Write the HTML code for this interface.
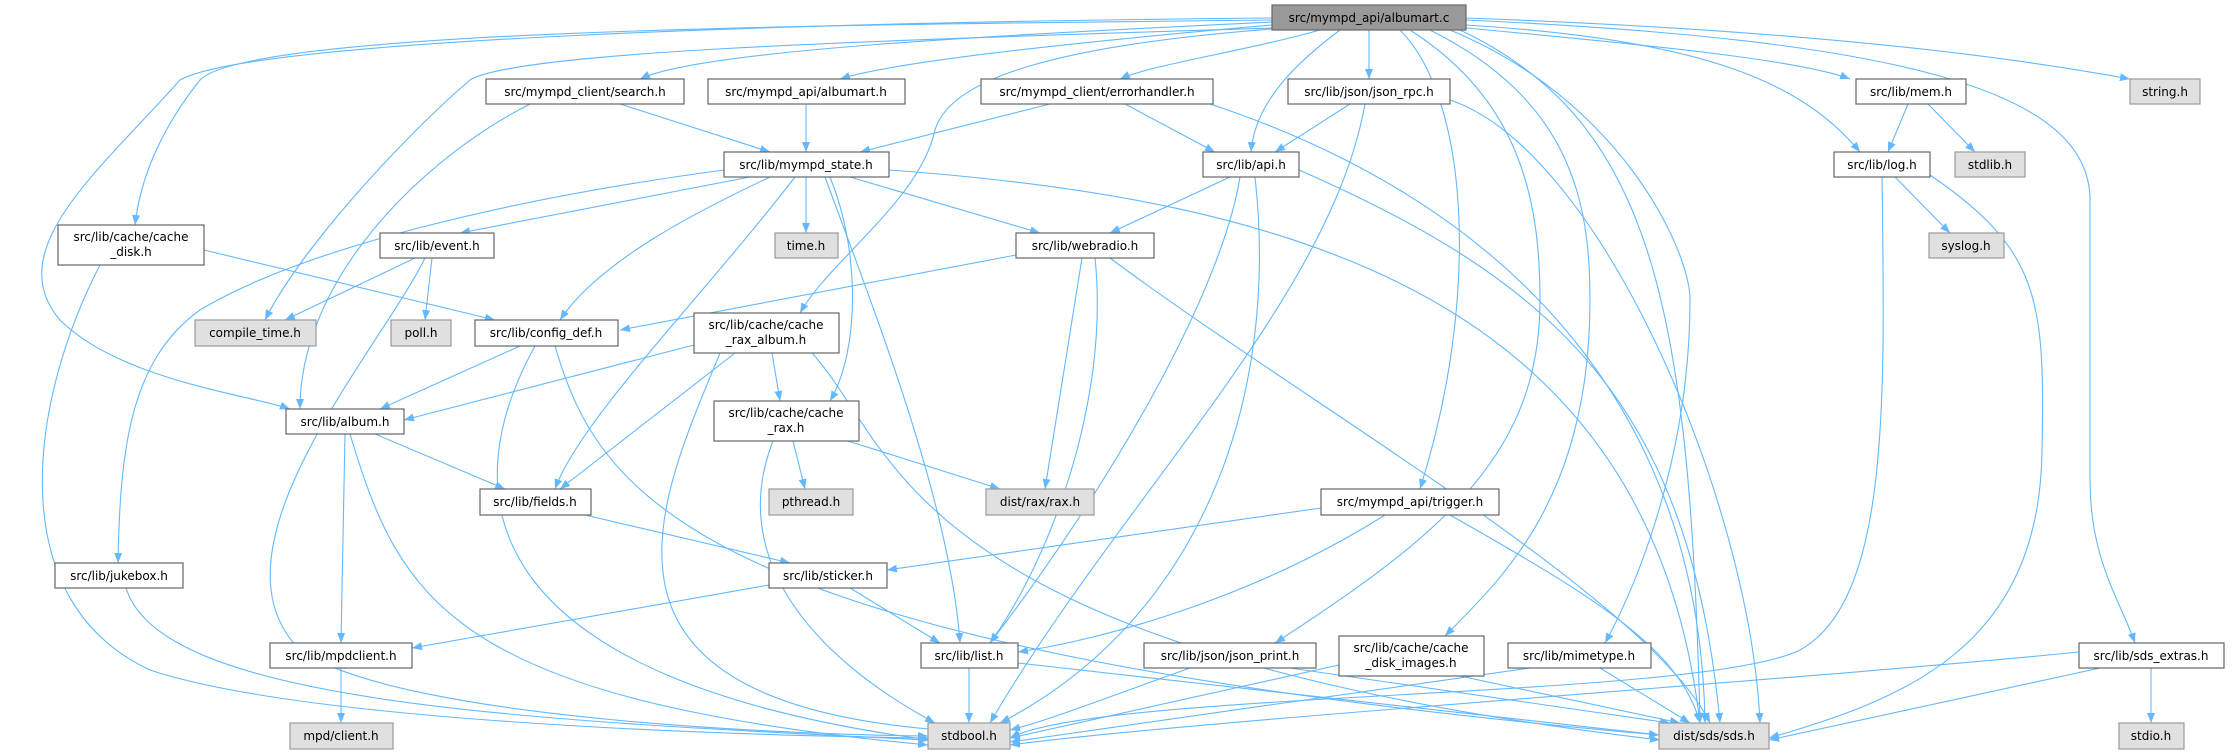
<!DOCTYPE html>
<html><head><meta charset="utf-8"><style>
html,body{margin:0;padding:0;background:#fff;}
svg{display:block}
text{font-family:"DejaVu Sans","Liberation Sans",sans-serif;font-size:12px;fill:#000;text-anchor:middle;}
.e{fill:none;stroke:#63b8ff;stroke-width:1.1;marker-end:url(#a)}
.n{fill:#fff;stroke:#666;stroke-width:1.2}
.g{fill:#e0e0e0;stroke:#999;stroke-width:1.2}
</style></head><body>
<svg width="2236" height="755" viewBox="0 0 2236 755" xmlns="http://www.w3.org/2000/svg">
<defs><marker id="a" markerUnits="userSpaceOnUse" markerWidth="10" markerHeight="8" refX="10" refY="4" orient="auto"><path d="M0,0 L10,4 L0,8 z" fill="#63b8ff"/></marker></defs>
<g>
<path class="e" d="M1272,22 C1000,35 700,50 640,79"/>
<path class="e" d="M1272,25 C1100,40 900,60 840,79"/>
<path class="e" d="M1320,30 C1250,50 1150,65 1120,79"/>
<path class="e" d="M1340,30 C1300,60 1255,100 1251,152"/>
<path class="e" d="M1369,30 L1369,79"/>
<path class="e" d="M1466,28 C1650,45 1800,60 1850,79"/>
<path class="e" d="M1466,25 C1700,40 1800,80 1860,152"/>
<path class="e" d="M1466,18 C1800,30 2000,55 2130,79"/>
<path class="e" d="M1466,20 C1900,40 2090,90 2090,200 L2090,480 C2090,560 2120,600 2135,643"/>
<path class="e" d="M1272,20 C800,25 250,30 200,80 C160,130 140,180 135,225"/>
<path class="e" d="M1272,18 C800,22 250,40 180,80 C100,170 0,250 60,320 C120,380 250,395 290,409"/>
<path class="e" d="M1272,28 C900,40 520,50 470,80 C400,140 300,250 265,320"/>
<path class="e" d="M1285,28 C1050,45 950,80 935,130 C920,200 830,260 800,313"/>
<path class="e" d="M1400,30 C1470,100 1480,300 1420,489"/>
<path class="e" d="M1410,30 C1520,100 1540,200 1540,300 C1540,450 1450,530 1275,643"/>
<path class="e" d="M1430,30 C1570,100 1590,200 1590,300 C1590,500 1500,580 1445,636"/>
<path class="e" d="M1450,30 C1620,100 1690,250 1690,300 C1690,450 1640,580 1605,643"/>
<path class="e" d="M1460,30 C1650,120 1690,300 1700,723"/>
<path class="e" d="M620,104 L770,152"/>
<path class="e" d="M530,104 C420,160 300,280 300,409"/>
<path class="e" d="M806,104 L806,152"/>
<path class="e" d="M1050,104 L860,152"/>
<path class="e" d="M1125,104 L1215,152"/>
<path class="e" d="M1210,104 C1500,200 1700,400 1705,723"/>
<path class="e" d="M1350,104 L1275,152"/>
<path class="e" d="M1365,104 C1330,300 1120,500 990,723"/>
<path class="e" d="M1450,100 C1600,150 1750,500 1760,723"/>
<path class="e" d="M1908,104 L1888,152"/>
<path class="e" d="M1928,104 L1975,152"/>
<path class="e" d="M1895,177 L1950,233"/>
<path class="e" d="M1882,177 C1885,400 1890,600 1800,650 C1700,700 1100,690 1010,738"/>
<path class="e" d="M1930,175 C2040,250 2045,300 2042,450 C2040,650 1900,700 1769,738"/>
<path class="e" d="M750,177 L460,233"/>
<path class="e" d="M806,177 L806,233"/>
<path class="e" d="M850,177 L1040,233"/>
<path class="e" d="M770,177 C700,210 600,260 560,320"/>
<path class="e" d="M830,177 C860,250 860,350 830,401"/>
<path class="e" d="M795,177 C700,300 580,420 555,489"/>
<path class="e" d="M825,177 C870,300 950,500 960,643"/>
<path class="e" d="M724,170 C500,200 300,250 200,310 C130,360 120,450 118,563"/>
<path class="e" d="M889,170 C1300,200 1650,300 1700,723"/>
<path class="e" d="M1230,177 L1110,233"/>
<path class="e" d="M1240,177 C1220,300 1100,500 990,643"/>
<path class="e" d="M1255,177 C1280,400 1200,620 1000,723"/>
<path class="e" d="M1299,170 C1550,280 1690,400 1720,723"/>
<path class="e" d="M204,250 L495,320"/>
<path class="e" d="M100,265 C30,400 0,600 150,670 C300,720 700,735 928,738"/>
<path class="e" d="M415,258 L285,320"/>
<path class="e" d="M432,258 L425,320"/>
<path class="e" d="M425,258 C380,350 200,550 300,650 C400,720 800,735 928,736"/>
<path class="e" d="M1016,255 L620,330"/>
<path class="e" d="M1082,258 L1045,489"/>
<path class="e" d="M1095,258 C1110,400 1050,560 990,643"/>
<path class="e" d="M1110,258 C1300,400 1650,600 1710,723"/>
<path class="e" d="M520,346 L380,409"/>
<path class="e" d="M535,346 C450,500 480,680 930,740"/>
<path class="e" d="M555,346 C600,500 700,650 1659,735"/>
<path class="e" d="M694,345 L404,420"/>
<path class="e" d="M772,353 L780,401"/>
<path class="e" d="M735,353 L560,489"/>
<path class="e" d="M720,353 C660,500 560,700 940,730"/>
<path class="e" d="M812,353 C900,450 900,650 1660,740"/>
<path class="e" d="M375,434 L505,489"/>
<path class="e" d="M345,434 L341,643"/>
<path class="e" d="M350,434 C400,600 450,700 928,745"/>
<path class="e" d="M793,441 L805,489"/>
<path class="e" d="M848,441 L1000,489"/>
<path class="e" d="M773,441 C730,550 800,650 935,723"/>
<path class="e" d="M585,515 L790,563"/>
<path class="e" d="M126,588 C160,700 500,720 928,740"/>
<path class="e" d="M769,585 L412,648"/>
<path class="e" d="M850,588 L940,643"/>
<path class="e" d="M1321,508 L887,570"/>
<path class="e" d="M1385,515 C1250,600 1100,640 1018,652"/>
<path class="e" d="M1450,515 C1600,600 1680,650 1700,723"/>
<path class="e" d="M341,668 L341,723"/>
<path class="e" d="M969,668 L969,723"/>
<path class="e" d="M1018,663 L1659,735"/>
<path class="e" d="M1190,668 C1100,700 1050,720 1010,730"/>
<path class="e" d="M1290,668 L1670,723"/>
<path class="e" d="M1339,665 L1010,738"/>
<path class="e" d="M1460,676 L1680,723"/>
<path class="e" d="M1530,668 L1010,742"/>
<path class="e" d="M1600,668 L1690,723"/>
<path class="e" d="M2151,668 L2151,723"/>
<path class="e" d="M2079,652 C1800,680 1200,720 1010,745"/>
<path class="e" d="M2100,668 L1769,740"/>
</g>
<g>
<rect x="1272" y="5" width="194" height="25" fill="#999" stroke="#666" stroke-width="1.2"/><text x="1369" y="22">src/mympd_api/albumart.c</text>
<rect class="n" x="486" y="79" width="198" height="25"/><text x="585" y="96">src/mympd_client/search.h</text>
<rect class="n" x="708" y="79" width="197" height="25"/><text x="806" y="96">src/mympd_api/albumart.h</text>
<rect class="n" x="981" y="79" width="232" height="25"/><text x="1097" y="96">src/mympd_client/errorhandler.h</text>
<rect class="n" x="1288" y="79" width="162" height="25"/><text x="1369" y="96">src/lib/json/json_rpc.h</text>
<rect class="n" x="1856" y="79" width="110" height="25"/><text x="1911" y="96">src/lib/mem.h</text>
<rect class="g" x="2130" y="79" width="70" height="25"/><text x="2165" y="96">string.h</text>
<rect class="n" x="724" y="152" width="165" height="25"/><text x="806" y="169">src/lib/mympd_state.h</text>
<rect class="n" x="1203" y="152" width="96" height="25"/><text x="1251" y="169">src/lib/api.h</text>
<rect class="n" x="1834" y="152" width="96" height="25"/><text x="1882" y="169">src/lib/log.h</text>
<rect class="g" x="1955" y="152" width="70" height="25"/><text x="1990" y="169">stdlib.h</text>
<rect class="n" x="58" y="225" width="146" height="40"/><text x="131" y="241">src/lib/cache/cache</text><text x="131" y="256">_disk.h</text>
<rect class="n" x="380" y="233" width="114" height="25"/><text x="437" y="250">src/lib/event.h</text>
<rect class="g" x="775" y="233" width="63" height="25"/><text x="806" y="250">time.h</text>
<rect class="n" x="1016" y="233" width="138" height="25"/><text x="1085" y="250">src/lib/webradio.h</text>
<rect class="g" x="1929" y="233" width="75" height="25"/><text x="1966" y="250">syslog.h</text>
<rect class="g" x="195" y="320" width="121" height="26"/><text x="255" y="337">compile_time.h</text>
<rect class="g" x="391" y="320" width="60" height="26"/><text x="421" y="337">poll.h</text>
<rect class="n" x="475" y="320" width="143" height="26"/><text x="546" y="337">src/lib/config_def.h</text>
<rect class="n" x="694" y="313" width="145" height="40"/><text x="766" y="329">src/lib/cache/cache</text><text x="766" y="344">_rax_album.h</text>
<rect class="n" x="286" y="409" width="118" height="25"/><text x="345" y="426">src/lib/album.h</text>
<rect class="n" x="714" y="401" width="145" height="40"/><text x="786" y="417">src/lib/cache/cache</text><text x="786" y="432">_rax.h</text>
<rect class="n" x="480" y="489" width="111" height="26"/><text x="535" y="506">src/lib/fields.h</text>
<rect class="g" x="769" y="489" width="84" height="26"/><text x="811" y="506">pthread.h</text>
<rect class="g" x="986" y="489" width="108" height="26"/><text x="1040" y="506">dist/rax/rax.h</text>
<rect class="n" x="1321" y="489" width="178" height="26"/><text x="1410" y="506">src/mympd_api/trigger.h</text>
<rect class="n" x="55" y="563" width="128" height="25"/><text x="119" y="580">src/lib/jukebox.h</text>
<rect class="n" x="769" y="563" width="118" height="25"/><text x="828" y="580">src/lib/sticker.h</text>
<rect class="n" x="270" y="643" width="142" height="25"/><text x="341" y="660">src/lib/mpdclient.h</text>
<rect class="n" x="921" y="643" width="97" height="25"/><text x="969" y="660">src/lib/list.h</text>
<rect class="n" x="1144" y="643" width="172" height="25"/><text x="1230" y="660">src/lib/json/json_print.h</text>
<rect class="n" x="1339" y="636" width="145" height="40"/><text x="1411" y="652">src/lib/cache/cache</text><text x="1411" y="667">_disk_images.h</text>
<rect class="n" x="1508" y="643" width="143" height="25"/><text x="1579" y="660">src/lib/mimetype.h</text>
<rect class="n" x="2079" y="643" width="145" height="25"/><text x="2151" y="660">src/lib/sds_extras.h</text>
<rect class="g" x="290" y="723" width="103" height="26"/><text x="341" y="740">mpd/client.h</text>
<rect class="g" x="928" y="723" width="82" height="26"/><text x="969" y="740">stdbool.h</text>
<rect class="g" x="1659" y="723" width="110" height="26"/><text x="1714" y="740">dist/sds/sds.h</text>
<rect class="g" x="2119" y="723" width="65" height="26"/><text x="2151" y="740">stdio.h</text>
</g>
</svg>
</body></html>
